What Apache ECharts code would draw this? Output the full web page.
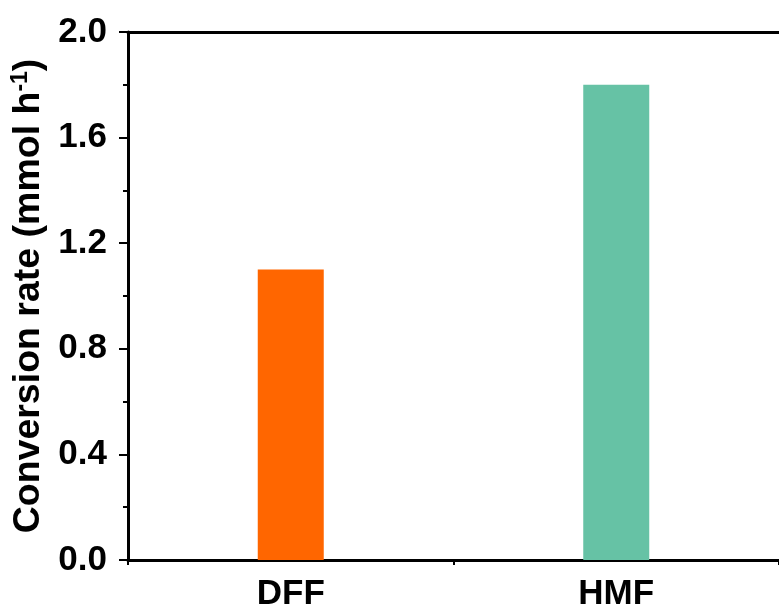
<!DOCTYPE html>
<html>
<head>
<meta charset="utf-8">
<script src="https://cdn.jsdelivr.net/npm/echarts@6/dist/echarts.min.js"></script>
<style>html,body{margin:0;padding:0;background:#fff;}#c{width:779px;height:612px;}</style>
</head>
<body>
<div id="c"></div>
<script>
const categories = ['DFF', 'HMF'];
const values = [1.1, 1.8];
const barColors = ['#FF6600', '#66C2A5'];
const yMin = 0, yMax = 2.0, yInterval = 0.4;

const FONT = '"Liberation Sans", Arial, sans-serif';
const chart = echarts.init(document.getElementById('c'));
chart.setOption({
  animation: false,
  backgroundColor: '#fff',
  grid: { left: 128, top: 32, width: 656, height: 528, containLabel: false },
  xAxis: [
    {
      type: 'category', data: categories, position: 'bottom',
      axisLine: { lineStyle: { color: '#000', width: 3 } },
      axisTick: { alignWithLabel: true, length: 9, lineStyle: { color: '#000', width: 2 } },
      axisLabel: { color: '#000', fontFamily: FONT, fontWeight: 'bold', fontSize: 35, margin: 17 }
    },
    {
      type: 'category', data: categories, position: 'bottom',
      axisLine: { show: false },
      axisTick: { show: true, length: 5, lineStyle: { color: '#000', width: 2 } },
      axisLabel: { show: false }
    },
    {
      type: 'category', data: categories, position: 'top',
      axisLine: { lineStyle: { color: '#000', width: 3 } },
      axisTick: { show: false }, axisLabel: { show: false }
    }
  ],
  yAxis: {
    type: 'value', min: yMin, max: yMax, interval: yInterval,
    name: '{b|Conversion rate (mmol h}{sup|-1}{b|)}',
    nameLocation: 'middle', nameGap: 73,
    nameTextStyle: {
      color: '#000', fontFamily: FONT, fontWeight: 'bold', fontSize: 37.5,
      rich: {
        b: { fontFamily: FONT, fontWeight: 'bold', fontSize: 37.5, color: '#000' },
        sup: { fontFamily: FONT, fontWeight: 'bold', fontSize: 23, color: '#000', verticalAlign: 'top', padding: [0, 0, 15, 0] }
      }
    },
    axisLine: { show: true, lineStyle: { color: '#000', width: 3 } },
    axisTick: { show: true, length: 9, lineStyle: { color: '#000', width: 2 } },
    minorTick: { show: true, splitNumber: 2, length: 5, lineStyle: { color: '#000', width: 2 } },
    splitLine: { show: false },
    axisLabel: { color: '#000', fontFamily: FONT, fontWeight: 'bold', fontSize: 35, margin: 21,
      formatter: v => v.toFixed(1) }
  },
  series: [{
    type: 'bar', barWidth: 66,
    data: values.map((v, i) => ({ value: v, itemStyle: { color: barColors[i] } }))
  }]
});
</script>
</body>
</html>
